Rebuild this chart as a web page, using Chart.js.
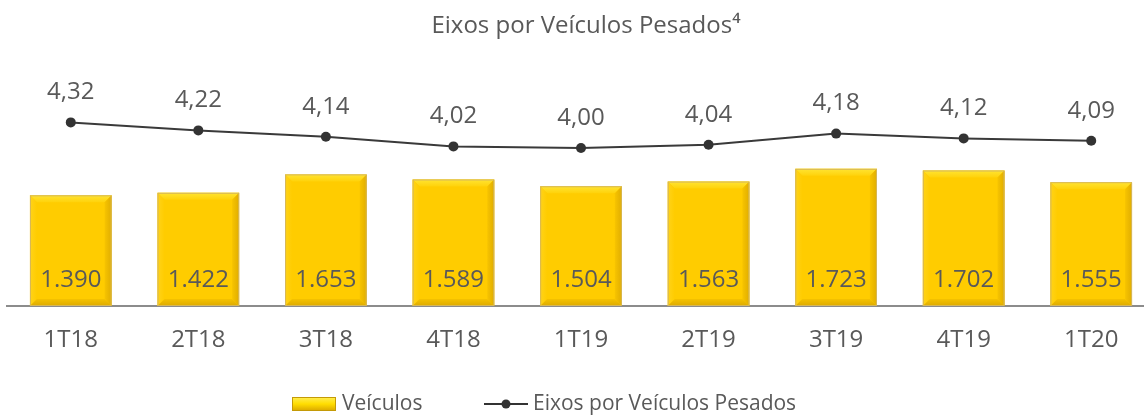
<!DOCTYPE html>
<html>
<head>
<meta charset="utf-8">
<script src="https://cdn.jsdelivr.net/npm/chart.js@4.4.0/dist/chart.umd.min.js"></script>
<style>
  html, body { margin: 0; padding: 0; background: #fff; overflow: hidden; }
  #wrap { width: 1160px; height: 419px; position: relative; }
</style>
</head>
<body>
<div id="wrap"><canvas id="myChart"></canvas></div>
<script>
// data
const quarters = ['1T18', '2T18', '3T18', '4T18', '1T19', '2T19', '3T19', '4T19', '1T20'];
const veiculos = [1390, 1422, 1653, 1589, 1504, 1563, 1723, 1702, 1555];
const eixos = [4.32, 4.22, 4.14, 4.02, 4.00, 4.04, 4.18, 4.12, 4.09];

const chartTitle = 'Eixos por Veículos Pesados⁴';
const barLabel = 'Veículos';
const lineLabel = 'Eixos por Veículos Pesados';

const FONT = '"Open Sans", "Noto Sans", sans-serif';
const TEXT = '#595959';

function fmtInt(v) {
    return v.toLocaleString('pt-BR');
}
function fmtDec(v) {
    return v.toFixed(2).replace('.', ',');
}

/*
    bevelBar paints the soft raised edges on each bar after the bar dataset is drawn
*/
function bevelBar(ctx, el, b) {
    let l = el.x - el.width / 2, r = el.x + el.width / 2
    let t = el.y, bot = el.base
    ctx.save()
    // top
    let gt = ctx.createLinearGradient(0, t, 0, t + b)
    gt.addColorStop(0, '#FFE433'); gt.addColorStop(1, '#FFD20A')
    ctx.fillStyle = gt
    ctx.beginPath(); ctx.moveTo(l, t); ctx.lineTo(r, t); ctx.lineTo(r - b, t + b); ctx.lineTo(l + b, t + b); ctx.closePath(); ctx.fill()
    // left
    let gl = ctx.createLinearGradient(l, 0, l + b, 0)
    gl.addColorStop(0, '#FFD31A'); gl.addColorStop(1, '#FFCC00')
    ctx.fillStyle = gl
    ctx.beginPath(); ctx.moveTo(l, t); ctx.lineTo(l + b, t + b); ctx.lineTo(l + b, bot - b); ctx.lineTo(l, bot); ctx.closePath(); ctx.fill()
    // right
    let gr = ctx.createLinearGradient(r - b, 0, r, 0)
    gr.addColorStop(0, '#F7C400'); gr.addColorStop(1, '#E0AD00')
    ctx.fillStyle = gr
    ctx.beginPath(); ctx.moveTo(r, t); ctx.lineTo(r - b, t + b); ctx.lineTo(r - b, bot - b); ctx.lineTo(r, bot); ctx.closePath(); ctx.fill()
    // bottom
    let gb = ctx.createLinearGradient(0, bot - b, 0, bot)
    gb.addColorStop(0, '#F5C200'); gb.addColorStop(1, '#DDAA00')
    ctx.fillStyle = gb
    ctx.beginPath(); ctx.moveTo(l, bot); ctx.lineTo(l + b, bot - b); ctx.lineTo(r - b, bot - b); ctx.lineTo(r, bot); ctx.closePath(); ctx.fill()
    // outline
    ctx.strokeStyle = '#D6B75A'
    ctx.lineWidth = 1
    ctx.strokeRect(l + 0.5, t + 0.5, el.width - 1, bot - t - 1)
    ctx.restore()
}

const bevelPlugin = {
    id: 'bevel',
    afterDatasetDraw(chart, args) {
        if (args.index !== 0) return
        let ctx = chart.ctx
        args.meta.data.forEach(el => bevelBar(ctx, el, 7))
    }
}

const labelsPlugin = {
    id: 'valueLabels',
    afterDatasetsDraw(chart) {
        let ctx = chart.ctx
        ctx.save()
        ctx.fillStyle = TEXT
        ctx.textAlign = 'center'
        ctx.textBaseline = 'middle'
        ctx.font = '24px ' + FONT
        let bars = chart.getDatasetMeta(0).data
        bars.forEach((el, i) => {
            ctx.fillText(fmtInt(veiculos[i]), el.x, el.base - 26)
        })
        let pts = chart.getDatasetMeta(1).data
        pts.forEach((el, i) => {
            ctx.fillText(fmtDec(eixos[i]), el.x, el.y - 30)
        })
        ctx.restore()
    }
}

const titleLegendPlugin = {
    id: 'titleLegend',
    afterDraw(chart) {
        let ctx = chart.ctx
        ctx.save()
        ctx.fillStyle = TEXT
        ctx.textBaseline = 'middle'
        ctx.textAlign = 'center'
        ctx.font = '24px ' + FONT
        ctx.fillText(chartTitle, 586, 26)

        // legend
        ctx.textAlign = 'left'
        ctx.font = '21px ' + FONT
        let y = 404
        let x = 292
        let g = ctx.createLinearGradient(0, y - 7, 0, y + 7)
        g.addColorStop(0, '#FFEE55')
        g.addColorStop(0.5, '#FFDD00')
        g.addColorStop(1, '#D9A600')
        ctx.fillStyle = g
        ctx.fillRect(x, y - 7, 44, 14)
        ctx.strokeStyle = '#C49A06'
        ctx.lineWidth = 1
        ctx.strokeRect(x + 0.5, y - 6.5, 43, 13)
        ctx.fillStyle = TEXT
        ctx.fillText(barLabel, x + 50, y)

        let lx = 484
        ctx.strokeStyle = '#333333'
        ctx.lineWidth = 2
        ctx.beginPath(); ctx.moveTo(lx, y); ctx.lineTo(lx + 44, y); ctx.stroke()
        ctx.fillStyle = '#333333'
        ctx.beginPath(); ctx.arc(lx + 22, y, 4.5, 0, Math.PI * 2); ctx.fill()
        ctx.fillStyle = TEXT
        ctx.fillText(lineLabel, lx + 49, y)
        ctx.restore()
    }
}

const ctx = document.getElementById('myChart');
new Chart(ctx, {
    data: {
        labels: quarters,
        datasets: [{
            type: 'bar',
            label: barLabel,
            data: veiculos,
            backgroundColor: '#FFCC00',
            borderWidth: 0,
            barPercentage: 0.64,
            categoryPercentage: 1,
            yAxisID: 'y',
            order: 2
        }, {
            type: 'line',
            label: lineLabel,
            data: eixos,
            borderColor: '#3a3a3a',
            borderWidth: 2,
            pointRadius: 5,
            pointBackgroundColor: '#333333',
            pointBorderWidth: 0,
            tension: 0,
            yAxisID: 'y1',
            order: 1
        }]
    },
    options: {
        responsive: true,
        maintainAspectRatio: false,
        animation: false,
        layout: { padding: { top: 60, bottom: 63, left: 7, right: 1 } },
        plugins: {
            legend: { display: false },
            title: { display: false },
            tooltip: { enabled: false }
        },
        scales: {
            x: {
                grid: { display: false, drawTicks: false },
                border: { display: true, color: '#8c8c8c', width: 2 },
                ticks: { color: TEXT, font: { family: FONT, size: 24 }, padding: 20 },
                afterFit: (scale) => { scale.height = 50 }
            },
            y: { display: false, min: 0, max: 3090 },
            y1: { display: false, min: 2.025, max: 5.1 }
        }
    },
    plugins: [bevelPlugin, labelsPlugin, titleLegendPlugin]
});
</script>
</body>
</html>
